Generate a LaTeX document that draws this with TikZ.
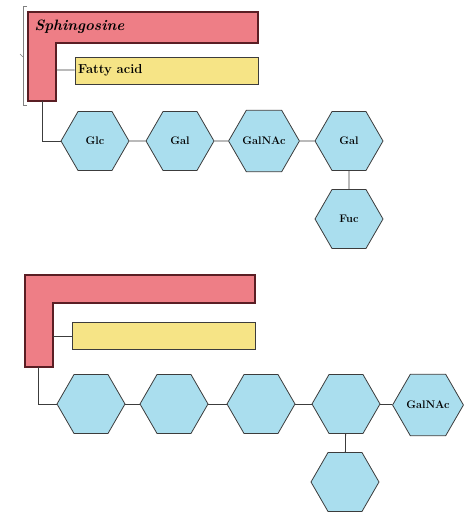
\documentclass[tikz,border=0pt]{standalone}
\usetikzlibrary{shapes.geometric}
\definecolor{sphingred}{RGB}{238,126,134}
\definecolor{sphingline}{RGB}{90,30,36}
\definecolor{fattyyellow}{RGB}{246,228,134}
\definecolor{sugarblue}{RGB}{170,222,238}
\definecolor{edgegray}{RGB}{60,60,60}
\begin{document}
\begin{tikzpicture}[x=1pt, y=-1pt,
  lipid/.style={draw=sphingline, line width=1.1pt, fill=sphingred},
  fattybox/.style={draw=edgegray, line width=1pt, fill=fattyyellow, minimum width=183pt, minimum height=27pt, inner sep=0pt},
  sugar/.style={draw=edgegray, line width=0.8pt, fill=sugarblue, regular polygon, regular polygon sides=6, minimum size=68pt, inner sep=0pt, font=\fontsize{11}{13}\selectfont\bfseries},
  link/.style={draw=edgegray, line width=0.8pt}]
\useasboundingbox (0,0) rectangle (474,514);
% upper ganglioside
\draw[gray, line width=0.5pt] (27,6) -- (23,6) -- (23,105) -- (27,105);
\draw[gray, line width=0.5pt] (23,57) -- (20,54);
\draw[lipid] (28,12) -- (258,12) -- (258,43) -- (56,43) -- (56,101) -- (28,101) -- cycle;
\node[anchor=west, font=\fontsize{15}{17}\selectfont\bfseries\itshape] (sphing1) at (31,27) {Sphingosine};
\coordinate (stem1) at (42,101);
\coordinate (tail1) at (56,70);
\node[fattybox] (fatty1) at (166.5,70.5) {};
\node[anchor=west, font=\fontsize{13}{15}\selectfont\bfseries] (fattytext1) at (fatty1.west) {Fatty acid};
\node[sugar] (glc1) at (95,141) {Glc};
\node[sugar] (gala1) at (180,141) {Gal};
\node[sugar] (galnac1) at (264,141) {GalNAc};
\node[sugar] (galb1) at (349,141) {Gal};
\node[sugar] (fuc1) at (349,219) {Fuc};
\draw[link] (tail1) -- (fatty1);
\draw[link] (stem1) |- (glc1);
\draw[link] (glc1) -- (gala1);
\draw[link] (gala1) -- (galnac1);
\draw[link] (galnac1) -- (galb1);
\draw[link] (galb1) -- (fuc1);
% lower ganglioside
\draw[lipid] (25,275) -- (255,275) -- (255,303) -- (53,303) -- (53,367) -- (25,367) -- cycle;
\coordinate (stem2) at (38,367);
\coordinate (tail2) at (53,336);
\node[fattybox] (fatty2) at (163.5,336) {};
\node[sugar] (hexa2) at (91,404) {};
\node[sugar] (hexb2) at (174,404) {};
\node[sugar] (hexc2) at (261,404) {};
\node[sugar] (hexd2) at (346,404) {};
\node[sugar, minimum size=64pt] (galnac2) at (428,405) {GalNAc};
\node[sugar] (hexe2) at (345,482) {};
\draw[link] (tail2) -- (fatty2);
\draw[link] (stem2) |- (hexa2);
\draw[link] (hexa2) -- (hexb2);
\draw[link] (hexb2) -- (hexc2);
\draw[link] (hexc2) -- (hexd2);
\draw[link] (hexd2) -- (galnac2);
\draw[link] (hexd2) -- (hexe2);
\end{tikzpicture}
\end{document}
